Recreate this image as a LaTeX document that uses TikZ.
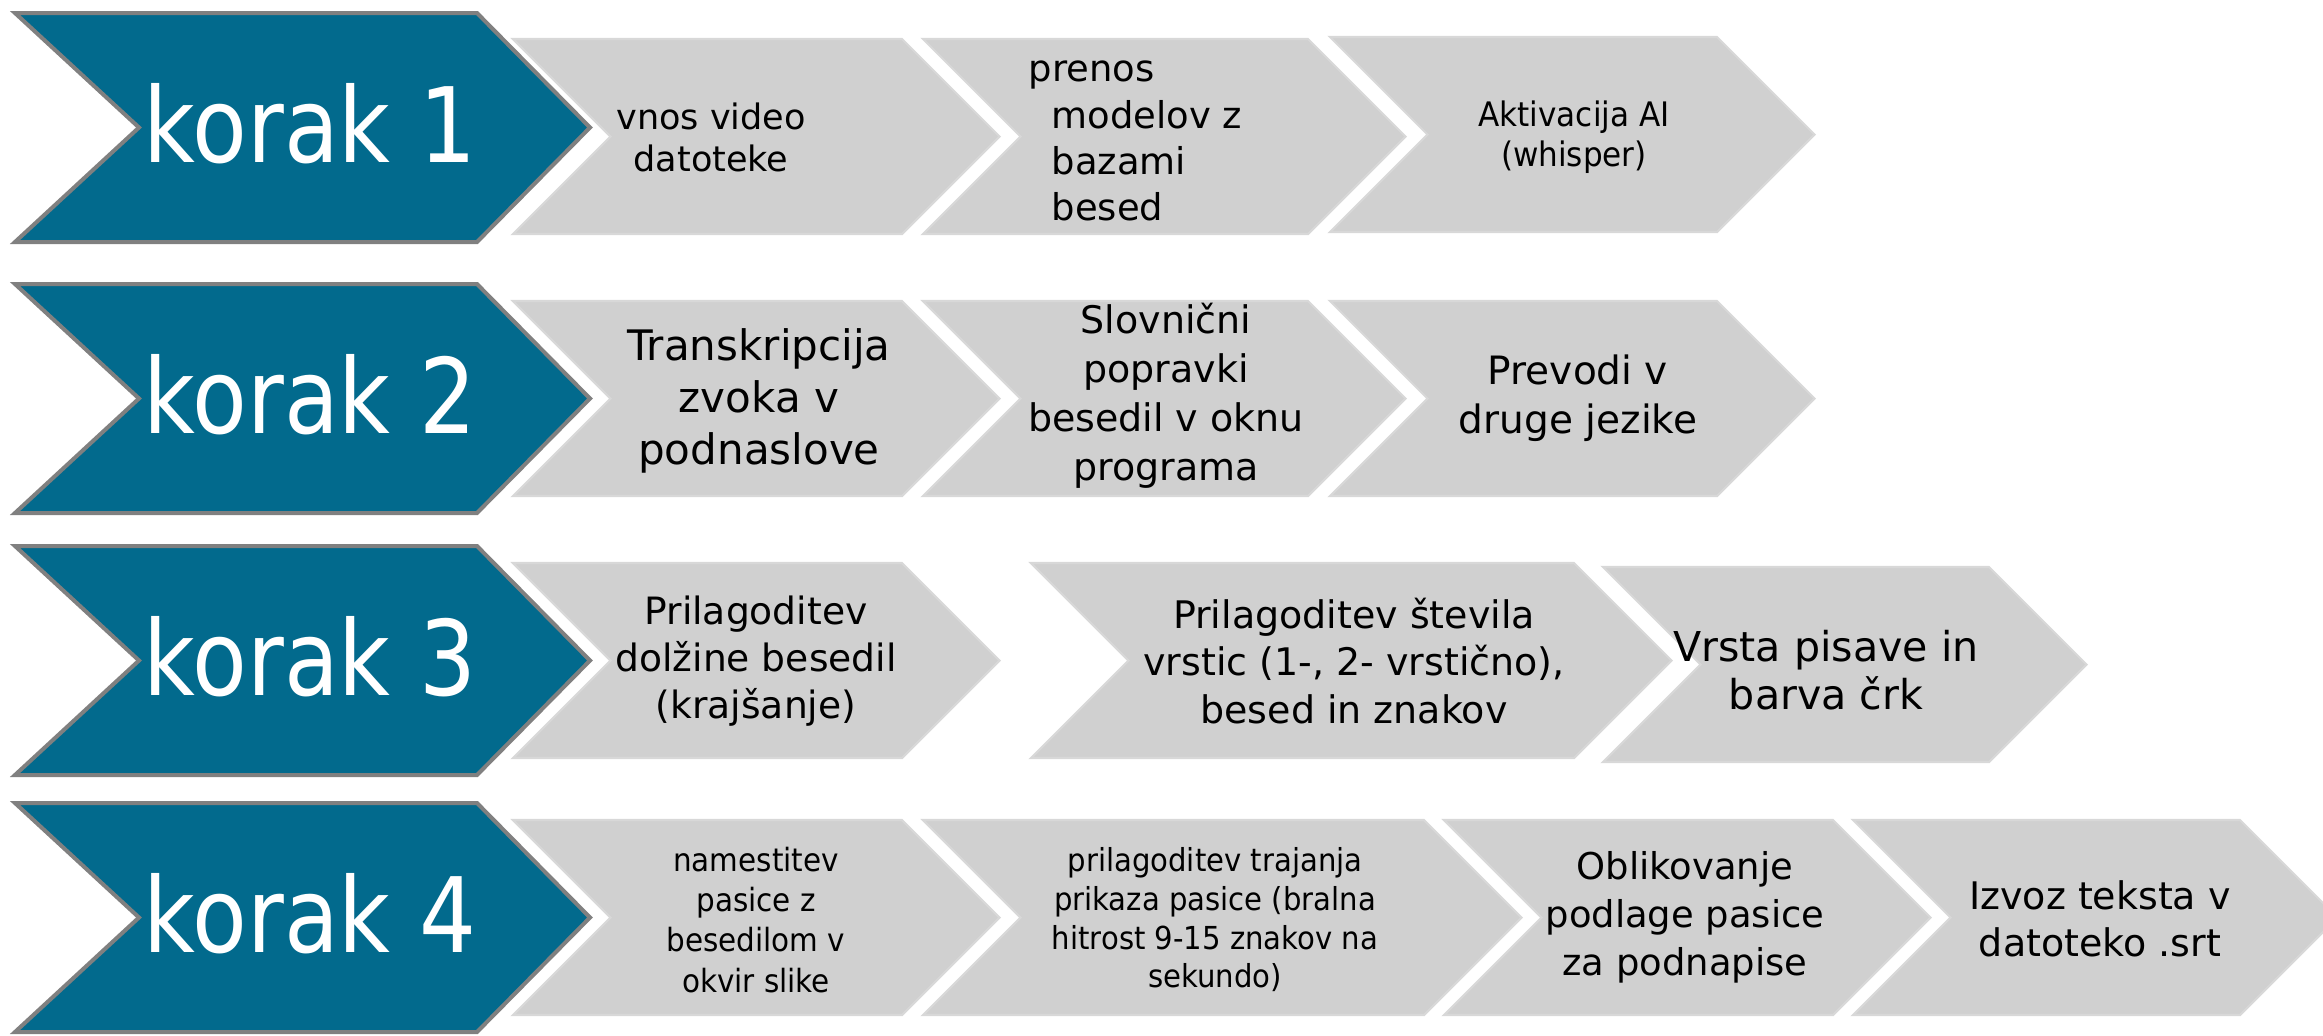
\documentclass[tikz,border=0pt]{standalone}
\usepackage{fontspec}
\setmainfont{DejaVu Sans}
\newfontfamily\korakfont{DejaVu Sans}[FakeStretch=0.86]
\newfontfamily\narrowfont{DejaVu Sans}[FakeStretch=0.92]
\definecolor{korakblue}{RGB}{2,106,141}
\definecolor{korakborder}{RGB}{128,128,128}
\definecolor{stepgray}{RGB}{208,208,208}
\definecolor{stepedge}{RGB}{216,216,216}
\newcommand\fsz[2]{\fontsize{#1pt}{#2pt}\selectfont}
\tikzset{
  korakshape/.style={fill=korakblue, draw=korakborder, line width=1.14pt, line join=miter},
  graychevron/.style={fill=stepgray, draw=stepedge, line width=0.6pt},
  koraktext/.style={text=white, font=\korakfont\fsz{29.6}{35}, inner sep=0pt, anchor=base},
  steptext/.style={text=black, align=center, inner sep=0pt},
}
% gray chevron: left x, top-right x, top y, bottom y
\newcommand\graychev[4]{%
  \pgfmathsetmacro\cy{(#3+#4)/2}\pgfmathsetmacro\dd{(#4-#3)/2}%
  \path[graychevron] (#1,#3) -- (#2,#3) -- (#2+\dd,\cy) -- (#2,#4) -- (#1,#4) -- (#1+\dd,\cy) -- cycle;}
% blue chevron: top y
\newcommand\bluechev[1]{%
  \path[korakshape] (15,#1) -- (477,#1) -- (590,#1+114.5) -- (477,#1+229) -- (15,#1+229) -- (139,#1+114.5) -- cycle;}
\begin{document}
\begin{tikzpicture}[x=0.01cm,y=-0.01cm]
\useasboundingbox (0,0) rectangle (2323,1035);
\clip (0,0) rectangle (2323,1035);
\fill[white] (0,0) rectangle (2323,1035);

% row 1
\graychev{513}{902}{39}{234}
\graychev{923}{1308}{39}{234}
\graychev{1330}{1717}{37}{232}
\bluechev{13}
\node[koraktext] (k1) at (310,162) {korak 1};
\node[steptext, font=\fsz{9.96}{11.95}] (s11) at (711,137) {vnos video\\datoteke};
\node[steptext, align=left, font=\fsz{10.5}{13.1}] (s12) at (1147,141) {\hspace*{-6.5pt}prenos\\modelov z\\bazami\\besed};
\node[steptext, font=\narrowfont\fsz{9.6}{11.4}] (s13) at (1574,137) {Aktivacija AI\\(whisper)};

% row 2
\graychev{513}{902}{301}{496}
\graychev{923}{1308}{301}{496}
\graychev{1330}{1717}{301}{496}
\bluechev{284}
\node[koraktext] (k2) at (310,433) {korak 2};
\node[steptext, font=\fsz{11.95}{14.8}] (s21) at (759,401) {Transkripcija\\zvoka v\\podnaslove};
\node[steptext, font=\fsz{10.8}{13.9}] (s22) at (1166,396) {Slovnični\\popravki\\besedil v oknu\\programa};
\node[steptext, font=\fsz{11.1}{13.9}] (s23) at (1578,398) {Prevodi v\\druge jezike};

% row 3
\graychev{513}{902}{563}{758}
\graychev{1031}{1574}{563}{758}
\graychev{1603}{1989}{567}{762}
\bluechev{546}
\node[koraktext] (k3) at (310,695) {korak 3};
\node[steptext, font=\fsz{10.7}{13.4}] (s31) at (756,661) {Prilagoditev\\dolžine besedil\\(krajšanje)};
\node[steptext, font=\fsz{10.8}{13.4}] (s32) at (1354,661) {Prilagoditev števila\\vrstic (1-, 2- vrstično),\\besed in znakov};
\node[steptext, font=\fsz{11.7}{13.7}] (s33) at (1826,670) {Vrsta pisave in\\barva črk};

% row 4
\graychev{513}{902}{820}{1015}
\graychev{923}{1424}{820}{1015}
\graychev{1444}{1833}{820}{1015}
\graychev{1853}{2240}{820}{1015}
\bluechev{803}
\node[koraktext] (k4) at (310,952) {korak 4};
\node[steptext, font=\narrowfont\fsz{9.1}{11.4}] (s41) at (756,920) {namestitev\\pasice z\\besedilom v\\okvir slike};
\node[steptext, font=\narrowfont\fsz{9.0}{11.0}] (s42) at (1215,920) {prilagoditev trajanja\\prikaza pasice (bralna\\hitrost 9-15 znakov na\\sekundo)};
\node[steptext, font=\fsz{10.5}{13.7}] (s43) at (1685,917) {Oblikovanje\\podlage pasice\\za podnapise};
\node[steptext, font=\fsz{10.8}{13.4}] (s44) at (2100,919) {Izvoz teksta v\\datoteko .srt};
\end{tikzpicture}
\end{document}
